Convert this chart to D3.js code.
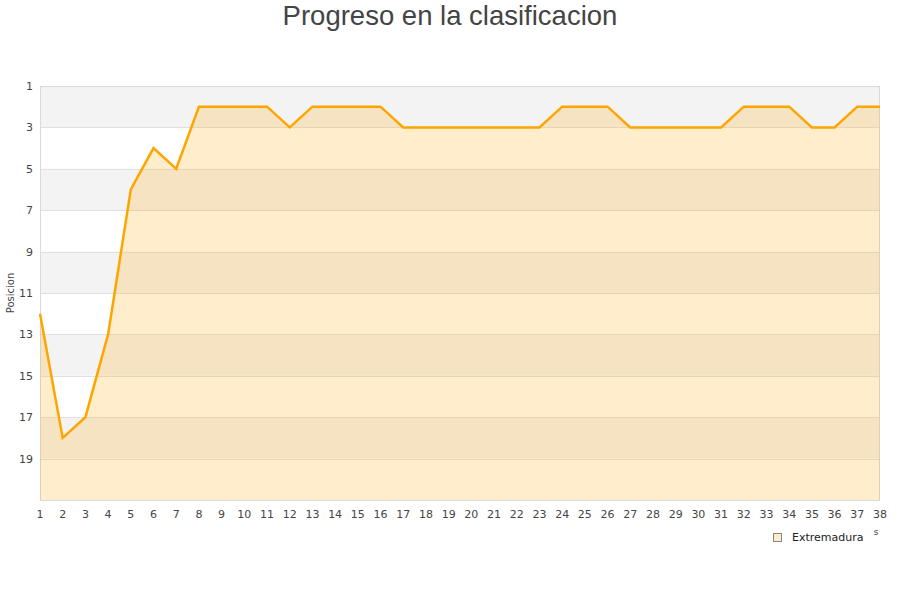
<!DOCTYPE html>
<html>
<head>
<meta charset="utf-8">
<script src="https://cdn.jsdelivr.net/npm/d3@7"></script>
<style>
body{margin:0;background:#fff;}
svg{display:block;}
</style>
</head>
<body>
<svg id="chart" width="900" height="600"></svg>
<script>
const jornadas = d3.range(1, 39);
const posiciones = [12,18,17,13,6,4,5,2,2,2,2,3,2,2,2,2,3,3,3,3,3,3,3,2,2,2,3,3,3,3,3,2,2,2,3,3,2,2];
const yTicks = [1,3,5,7,9,11,13,15,17,19];
const serieNombre = "Extremadura";
const titulo = "Progreso en la clasificacion";
const yTitulo = "Posicion";

(function () {
const svg = d3.select("#chart");
const pLeft = 40, pRight = 880, pTop = 86, pBottom = 500;
const x = d3.scaleLinear().domain([1, 38]).range([pLeft, pRight]);
const y = d3.scaleLinear().domain([1, 21]).range([pTop, pBottom]);

// bands
const bands = d3.range(1, 21, 2);
svg.append("g").selectAll("rect").data(bands).join("rect")
  .attr("x", pLeft).attr("width", pRight - pLeft)
  .attr("y", d => y(d)).attr("height", d => y(d + 2) - y(d))
  .attr("fill", (d, i) => i % 2 === 0 ? "#f3f3f3" : "#ffffff");

// grid lines
svg.append("g").selectAll("line").data(yTicks.slice(1)).join("line")
  .attr("x1", pLeft).attr("x2", pRight)
  .attr("y1", d => Math.round(y(d)) + 0.5).attr("y2", d => Math.round(y(d)) + 0.5)
  .attr("stroke", "#e0e0e0").attr("stroke-width", 1);

// plot border
svg.append("rect").attr("x", pLeft + 0.5).attr("y", pTop + 0.5)
  .attr("width", pRight - pLeft - 1).attr("height", pBottom - pTop)
  .attr("fill", "none").attr("stroke", "#dadada");

const data = jornadas.map((j, i) => ({j, p: posiciones[i]}));

// area
svg.append("path").datum(data)
  .attr("d", d3.area().x(d => x(d.j)).y0(y(21)).y1(d => y(d.p)))
  .attr("fill", "#ffa500").attr("fill-opacity", 0.2);

// line
svg.append("path").datum(data)
  .attr("d", d3.line().x(d => x(d.j)).y(d => y(d.p)))
  .attr("fill", "none").attr("stroke", "#ffa500").attr("stroke-width", 2.5)
  .attr("stroke-linejoin", "miter");

// y axis labels
svg.append("g").selectAll("text").data(yTicks).join("text")
  .attr("x", 33).attr("y", d => y(d) + 4)
  .attr("text-anchor", "end")
  .attr("font-family", "DejaVu Sans").attr("font-size", 11).attr("fill", "#444")
  .text(d => d);

// x axis labels
svg.append("g").selectAll("text").data(jornadas).join("text")
  .attr("x", d => x(d)).attr("y", 518)
  .attr("text-anchor", "middle")
  .attr("font-family", "DejaVu Sans").attr("font-size", 11).attr("fill", "#444")
  .text(d => d);

// title
svg.append("text").attr("x", 450).attr("y", 25)
  .attr("text-anchor", "middle")
  .attr("font-family", "Liberation Sans, Arial").attr("font-size", 27.5).attr("fill", "#444")
  .text(titulo);

// y title
svg.append("text")
  .attr("transform", "translate(14,293) rotate(-90)")
  .attr("text-anchor", "middle")
  .attr("font-family", "DejaVu Sans").attr("font-size", 10).attr("fill", "#444")
  .text(yTitulo);

// x title fragment
svg.append("text").attr("x", 876).attr("y", 535)
  .attr("text-anchor", "middle")
  .attr("font-family", "DejaVu Sans").attr("font-size", 9).attr("fill", "#444")
  .text("s");

// legend
svg.append("rect").attr("x", 773.5).attr("y", 533.5).attr("width", 8).attr("height", 8)
  .attr("fill", "#fdecc8").attr("stroke", "#888").attr("stroke-width", 1);
svg.append("text").attr("x", 792).attr("y", 541)
  .attr("font-family", "DejaVu Sans").attr("font-size", 11).attr("fill", "#222")
  .text(serieNombre);
})();
</script>
</body>
</html>
